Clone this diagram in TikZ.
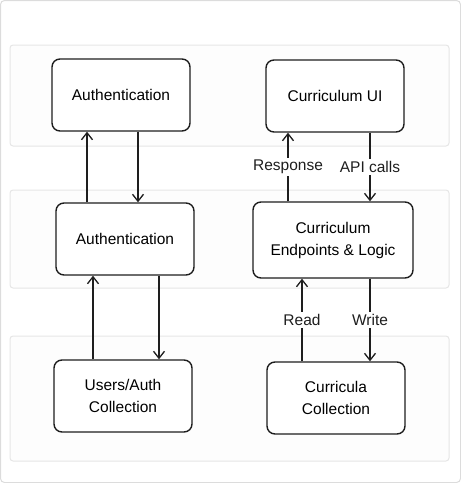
\documentclass[tikz,border=0pt]{standalone}
\usepackage{fontspec}
\setmainfont{Liberation Sans}
\usepackage{tikz}
\usetikzlibrary{arrows.meta, positioning}
\definecolor{ink}{HTML}{1E1E1E}
\definecolor{tierline}{HTML}{E6E6E6}
\definecolor{tierfill}{HTML}{FDFDFD}
\definecolor{frameline}{HTML}{DCDCDC}

\begin{document}
\begin{tikzpicture}[x=1pt, y=-1pt,
    every node/.style={font=\fontsize{15.5}{22}\selectfont},
    tier/.style={draw=tierline, fill=tierfill, line width=1pt, rounded corners=3pt},
    comp/.style={draw=ink, fill=white, line width=1.4pt, rounded corners=8pt,
      minimum width=138pt, minimum height=72pt, align=center, inner sep=0pt},
    flow/.style={draw=ink, line width=1.3pt, -{Straight Barb[length=7pt, width=11pt]}},
    lbl/.style={fill=white, inner sep=2pt, text=ink}]
        % frame and tiers
        \useasboundingbox (0,0) rectangle (461,483);
        \draw[frameline, line width=1pt, rounded corners=4pt] (0.5,0.5) rectangle (460.5,482.5);
        \draw[tier] (10,45) rectangle (449,146);
        \draw[tier] (10,190) rectangle (449,288);
        \draw[tier] (10,336) rectangle (449,461);
        % components
        \node[comp] (authtop) at (121,95) {Authentication};
        \node[comp] (currui) at (335,96) {Curriculum UI};
        \node[comp] (authmid) at (125,239) {Authentication};
        \node[comp, minimum width=160pt, minimum height=76pt] (currapi) at (333,240) {Curriculum\\Endpoints \& Logic};
        \node[comp] (users) at (123,396) {Users/Auth\\Collection};
        \node[comp] (currdb) at (336,398) {Curricula\\Collection};
        % auth flows
        \draw[flow] (authmid.north -| 87,0) -- (authtop.south -| 87,0);
        \draw[flow] (authtop.south -| 138,0) -- (authmid.north -| 138,0);
        \draw[flow] (users.north -| 93,0) -- (authmid.south -| 93,0);
        \draw[flow] (authmid.south -| 159,0) -- (users.north -| 159,0);
        % curriculum flows
        \draw[flow] (currapi.north -| 288,0) -- node[lbl] {Response} (currui.south -| 288,0);
        \draw[flow] (currui.south -| 370,0) -- node[lbl] {API calls} (currapi.north -| 370,0);
        \draw[flow] (currdb.north -| 302,0) -- node[lbl] {Read} (currapi.south -| 302,0);
        \draw[flow] (currapi.south -| 370,0) -- node[lbl] {Write} (currdb.north -| 370,0);
\end{tikzpicture}
\end{document}
